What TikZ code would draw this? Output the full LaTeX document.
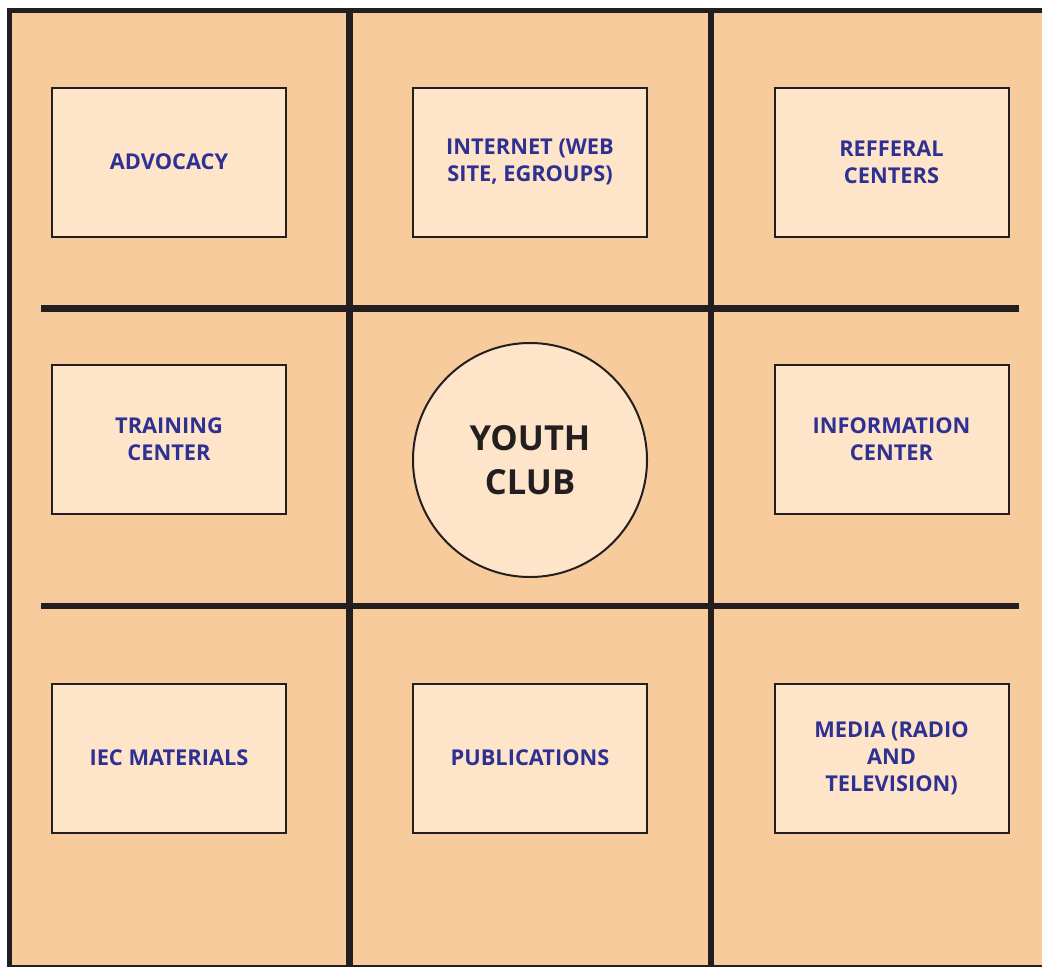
\documentclass[tikz,border=0pt]{standalone}
\usepackage{fontspec}
\setmainfont{Open Sans}
\definecolor{bgorange}{HTML}{F7CB9B}
\definecolor{boxfill}{HTML}{FEE4C9}
\definecolor{txtblue}{HTML}{2E3192}
\definecolor{ink}{HTML}{231F20}
\tikzset{
  gridline/.style={draw=ink, line width=6.5pt},
  infobox/.style={draw=ink, line width=2pt, fill=boxfill, minimum width=234pt, minimum height=149pt, inner sep=0pt,
    align=center, text=txtblue, font=\fontsize{21.8}{27}\selectfont\bfseries},
  hub/.style={draw=ink, line width=2pt, fill=boxfill, circle, minimum size=234pt, inner sep=0pt,
    align=center, text=ink, font=\fontsize{34.5}{44}\selectfont\bfseries}
}
\begin{document}
\begin{tikzpicture}[x=1pt,y=-1pt]
\useasboundingbox (0,0) rectangle (1042,967);
\fill[bgorange] (9.5,10.5) rectangle (1042,967);
% outer border
\draw[ink, line width=5pt] (9.5,967) -- (9.5,10.5) -- (1042,10.5);
\draw[ink, line width=2.5pt] (9.5,966) -- (1042,966);
% grid
\draw[gridline] (349.5,10.5) -- (349.5,967);
\draw[gridline] (711,10.5) -- (711,967);
\draw[gridline] (41,308.5) -- (1019,308.5);
\draw[gridline] (41,606) -- (1019,606);
% boxes
\node[infobox] (advocacy) at (169,162) {ADVOCACY};
\node[infobox] (internet) at (530,162) {INTERNET (WEB\\SITE, EGROUPS)};
\node[infobox] (referral) at (891.5,162) {REFFERAL\\CENTERS};
\node[infobox] (training) at (169,439) {TRAINING\\CENTER};
\node[hub] (youth) at (530,460) {YOUTH\\CLUB};
\node[infobox] (information) at (891.5,439) {INFORMATION\\CENTER};
\node[infobox] (iec) at (169,758) {IEC MATERIALS};
\node[infobox] (publications) at (530,758) {PUBLICATIONS};
\node[infobox] (media) at (891.5,758) {MEDIA (RADIO\\AND\\TELEVISION)};
\end{tikzpicture}
\end{document}
